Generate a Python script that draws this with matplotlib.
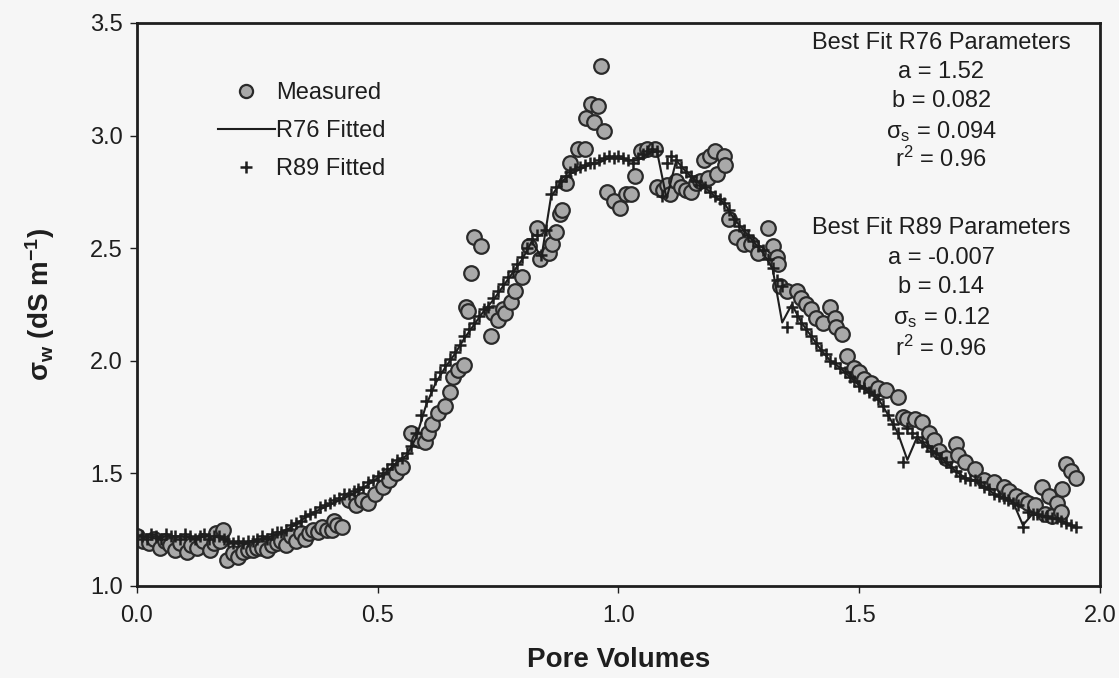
import numpy as np
import matplotlib
matplotlib.use("Agg")
import matplotlib.pyplot as plt

plt.rcParams['font.family'] = ['Liberation Sans', 'DejaVu Sans']
plt.rcParams['mathtext.fontset'] = 'custom'
plt.rcParams['mathtext.rm'] = 'Liberation Sans'
plt.rcParams['mathtext.it'] = 'Liberation Sans'
plt.rcParams['mathtext.bf'] = 'Liberation Sans:bold'

# measured points (pore volumes, sigma_w)
meas_x = [0.000, 0.012, 0.025, 0.035, 0.048, 0.058, 0.068, 0.079, 0.090, 0.103,
          0.113, 0.124, 0.138, 0.151, 0.160, 0.165, 0.172, 0.178, 0.186, 0.200,
          0.210, 0.220, 0.230, 0.240, 0.250, 0.260, 0.270, 0.280, 0.290, 0.300,
          0.310, 0.320, 0.330, 0.340, 0.350, 0.357, 0.365, 0.375, 0.385, 0.395,
          0.405, 0.410, 0.415, 0.425, 0.440, 0.455, 0.467, 0.480, 0.495, 0.510,
          0.523, 0.537, 0.550, 0.570, 0.585, 0.598, 0.605, 0.612, 0.626, 0.640,
          0.650, 0.657, 0.667, 0.680, 0.684, 0.688, 0.694, 0.700, 0.715, 0.735,
          0.740, 0.750, 0.760, 0.765, 0.777, 0.785, 0.800, 0.815, 0.830, 0.838,
          0.855, 0.862, 0.870, 0.878, 0.882, 0.890, 0.900, 0.915, 0.930, 0.932,
          0.943, 0.950, 0.957, 0.963, 0.970, 0.977, 0.990, 1.004, 1.015, 1.025,
          1.035, 1.046, 1.060, 1.076, 1.080, 1.092, 1.100, 1.107, 1.120, 1.130,
          1.140, 1.150, 1.160, 1.170, 1.178, 1.185, 1.190, 1.200, 1.205, 1.220,
          1.222, 1.230, 1.245, 1.260, 1.275, 1.290, 1.310, 1.320, 1.330, 1.332,
          1.335, 1.350, 1.370, 1.380, 1.390, 1.400, 1.410, 1.425, 1.440, 1.450,
          1.452, 1.465, 1.475, 1.490, 1.500, 1.510, 1.525, 1.540, 1.555, 1.580,
          1.590, 1.600, 1.615, 1.630, 1.645, 1.655, 1.665, 1.680, 1.700, 1.705,
          1.720, 1.740, 1.760, 1.780, 1.800, 1.812, 1.825, 1.840, 1.850, 1.865,
          1.880, 1.886, 1.895, 1.900, 1.910, 1.920, 1.922, 1.930, 1.940, 1.950]
meas_y = [1.22, 1.20, 1.19, 1.21, 1.17, 1.20, 1.18, 1.16, 1.19, 1.15,
          1.18, 1.17, 1.20, 1.16, 1.19, 1.235, 1.20, 1.25, 1.115, 1.145,
          1.13, 1.15, 1.16, 1.16, 1.17, 1.17, 1.16, 1.18, 1.19, 1.20,
          1.18, 1.22, 1.20, 1.235, 1.21, 1.235, 1.25, 1.24, 1.26, 1.25,
          1.25, 1.29, 1.27, 1.26, 1.38, 1.36, 1.38, 1.37, 1.41, 1.44,
          1.47, 1.50, 1.53, 1.68, 1.65, 1.64, 1.68, 1.72, 1.77, 1.80,
          1.86, 1.93, 1.96, 1.98, 2.24, 2.22, 2.39, 2.55, 2.51, 2.11,
          2.21, 2.18, 2.23, 2.21, 2.26, 2.31, 2.37, 2.51, 2.59, 2.45,
          2.48, 2.52, 2.57, 2.65, 2.67, 2.79, 2.88, 2.94, 2.94, 3.08,
          3.14, 3.06, 3.13, 3.31, 3.02, 2.75, 2.71, 2.68, 2.74, 2.74,
          2.82, 2.93, 2.94, 2.94, 2.77, 2.76, 2.78, 2.74, 2.80, 2.77,
          2.76, 2.75, 2.79, 2.80, 2.89, 2.81, 2.91, 2.93, 2.83, 2.91,
          2.87, 2.63, 2.55, 2.52, 2.52, 2.48, 2.59, 2.51, 2.46, 2.43,
          2.33, 2.31, 2.31, 2.28, 2.25, 2.23, 2.19, 2.17, 2.24, 2.19,
          2.15, 2.12, 2.02, 1.97, 1.95, 1.92, 1.90, 1.88, 1.87, 1.84,
          1.75, 1.74, 1.74, 1.73, 1.68, 1.65, 1.60, 1.57, 1.63, 1.58,
          1.55, 1.52, 1.47, 1.46, 1.44, 1.42, 1.40, 1.38, 1.37, 1.36,
          1.44, 1.32, 1.40, 1.31, 1.37, 1.33, 1.43, 1.54, 1.51, 1.48]

# R76 fitted curve
r76_x = [0.00, 0.02, 0.04, 0.06, 0.08, 0.10, 0.12, 0.14, 0.16, 0.18,
         0.20, 0.22, 0.24, 0.26, 0.28, 0.30, 0.32, 0.34, 0.36, 0.38,
         0.40, 0.42, 0.44, 0.46, 0.48, 0.50, 0.52, 0.54, 0.56, 0.58,
         0.60, 0.62, 0.64, 0.66, 0.68, 0.70, 0.72, 0.74, 0.76, 0.78,
         0.80, 0.82, 0.84, 0.86, 0.88, 0.90, 0.92, 0.94, 0.96, 0.98,
         1.00, 1.02, 1.04, 1.06, 1.08, 1.10, 1.12, 1.14, 1.16, 1.18,
         1.20, 1.22, 1.24, 1.26, 1.28, 1.30, 1.32, 1.34, 1.36, 1.38,
         1.40, 1.42, 1.44, 1.46, 1.48, 1.50, 1.52, 1.54, 1.56, 1.58,
         1.60, 1.62, 1.64, 1.66, 1.68, 1.70, 1.72, 1.74, 1.76, 1.78,
         1.80, 1.82, 1.84, 1.86, 1.88, 1.90, 1.92, 1.94, 1.95]
r76_y = [1.22, 1.22, 1.21, 1.22, 1.22, 1.22, 1.21, 1.22, 1.22, 1.21,
         1.19, 1.19, 1.20, 1.21, 1.22, 1.24, 1.26, 1.29, 1.32, 1.34,
         1.36, 1.38, 1.40, 1.42, 1.45, 1.48, 1.51, 1.55, 1.58, 1.66,
         1.80, 1.90, 1.97, 2.03, 2.10, 2.16, 2.22, 2.27, 2.33, 2.39,
         2.45, 2.53, 2.46, 2.73, 2.79, 2.83, 2.85, 2.87, 2.88, 2.90,
         2.90, 2.89, 2.89, 2.92, 2.93, 2.72, 2.89, 2.84, 2.80, 2.77,
         2.73, 2.70, 2.63, 2.58, 2.53, 2.48, 2.41, 2.17, 2.25, 2.17,
         2.11, 2.05, 2.00, 1.97, 1.93, 1.89, 1.86, 1.83, 1.76, 1.68,
         1.56, 1.66, 1.62, 1.59, 1.55, 1.51, 1.48, 1.47, 1.44, 1.41,
         1.39, 1.37, 1.27, 1.32, 1.31, 1.30, 1.29, 1.27, 1.26]

# R89 fitted points
r89_x = [0.00, 0.01, 0.02, 0.03, 0.04, 0.05, 0.06, 0.07, 0.08, 0.09,
         0.10, 0.11, 0.12, 0.13, 0.14, 0.15, 0.16, 0.17, 0.18, 0.19,
         0.20, 0.21, 0.22, 0.23, 0.24, 0.25, 0.26, 0.27, 0.28, 0.29,
         0.30, 0.31, 0.32, 0.33, 0.34, 0.35, 0.36, 0.37, 0.38, 0.39,
         0.40, 0.41, 0.42, 0.43, 0.44, 0.45, 0.46, 0.47, 0.48, 0.49,
         0.50, 0.51, 0.52, 0.53, 0.54, 0.55, 0.56, 0.57, 0.58, 0.59,
         0.60, 0.61, 0.62, 0.63, 0.64, 0.65, 0.66, 0.67, 0.68, 0.69,
         0.70, 0.71, 0.72, 0.73, 0.74, 0.75, 0.76, 0.77, 0.78, 0.79,
         0.80, 0.81, 0.82, 0.83, 0.84, 0.85, 0.86, 0.87, 0.88, 0.89,
         0.90, 0.91, 0.92, 0.93, 0.94, 0.95, 0.96, 0.97, 0.98, 0.99,
         1.00, 1.01, 1.02, 1.03, 1.04, 1.05, 1.06, 1.07, 1.08, 1.09,
         1.10, 1.11, 1.12, 1.13, 1.14, 1.15, 1.16, 1.17, 1.18, 1.19,
         1.20, 1.21, 1.22, 1.23, 1.24, 1.25, 1.26, 1.27, 1.28, 1.29,
         1.30, 1.31, 1.32, 1.33, 1.34, 1.35, 1.36, 1.37, 1.38, 1.39,
         1.40, 1.41, 1.42, 1.43, 1.44, 1.45, 1.46, 1.47, 1.48, 1.49,
         1.50, 1.51, 1.52, 1.53, 1.54, 1.55, 1.56, 1.57, 1.58, 1.59,
         1.60, 1.61, 1.62, 1.63, 1.64, 1.65, 1.66, 1.67, 1.68, 1.69,
         1.70, 1.71, 1.72, 1.73, 1.74, 1.75, 1.76, 1.77, 1.78, 1.79,
         1.80, 1.81, 1.82, 1.83, 1.84, 1.85, 1.86, 1.87, 1.88, 1.89,
         1.90, 1.91, 1.92, 1.93, 1.94, 1.95]
r89_y = [1.21, 1.22, 1.21, 1.23, 1.22, 1.21, 1.23, 1.22, 1.22, 1.21,
         1.23, 1.22, 1.21, 1.22, 1.23, 1.21, 1.22, 1.22, 1.21, 1.20,
         1.19, 1.20, 1.19, 1.20, 1.20, 1.21, 1.22, 1.21, 1.23, 1.24,
         1.24, 1.25, 1.27, 1.28, 1.29, 1.31, 1.32, 1.33, 1.35, 1.36,
         1.37, 1.38, 1.39, 1.41, 1.41, 1.42, 1.43, 1.44, 1.46, 1.47,
         1.49, 1.50, 1.52, 1.54, 1.56, 1.57, 1.59, 1.62, 1.68, 1.76,
         1.82, 1.87, 1.92, 1.95, 1.98, 2.01, 2.04, 2.07, 2.11, 2.14,
         2.17, 2.20, 2.23, 2.24, 2.28, 2.31, 2.34, 2.37, 2.40, 2.43,
         2.46, 2.50, 2.54, 2.56, 2.47, 2.58, 2.74, 2.77, 2.80, 2.82,
         2.84, 2.85, 2.86, 2.87, 2.88, 2.88, 2.89, 2.90, 2.91, 2.90,
         2.91, 2.90, 2.89, 2.88, 2.90, 2.92, 2.93, 2.94, 2.93, 2.73,
         2.88, 2.91, 2.89, 2.86, 2.84, 2.82, 2.80, 2.78, 2.77, 2.75,
         2.73, 2.72, 2.70, 2.67, 2.63, 2.60, 2.58, 2.56, 2.53, 2.51,
         2.49, 2.45, 2.41, 2.36, 2.33, 2.15, 2.24, 2.20, 2.17, 2.14,
         2.11, 2.08, 2.05, 2.03, 2.00, 1.99, 1.97, 1.95, 1.93, 1.91,
         1.89, 1.88, 1.86, 1.85, 1.83, 1.80, 1.76, 1.72, 1.68, 1.55,
         1.70, 1.68, 1.66, 1.64, 1.62, 1.60, 1.59, 1.57, 1.55, 1.53,
         1.51, 1.49, 1.48, 1.47, 1.47, 1.46, 1.44, 1.43, 1.41, 1.40,
         1.39, 1.38, 1.37, 1.36, 1.26, 1.33, 1.32, 1.32, 1.31, 1.31,
         1.30, 1.30, 1.29, 1.28, 1.27, 1.26]

r76_params = ["Best Fit R76 Parameters", "a = 1.52", "b = 0.082",
              r"$\sigma_s$ = 0.094", r"r$^2$ = 0.96"]
r89_params = ["Best Fit R89 Parameters", "a = -0.007", "b = 0.14",
              r"$\sigma_s$ = 0.12", r"r$^2$ = 0.96"]

bg = '#f6f6f6'
ink = '#1e1e1e'

fig = plt.figure(figsize=(11.19, 6.78), dpi=100, facecolor=bg)
ax = fig.add_axes([0.1224, 0.1357, 0.8606, 0.8304], facecolor=bg)

ax.plot(meas_x, meas_y, linestyle='none', marker='o', ms=10.5,
        mfc='#a9a9a9', mec='#2a2a2a', mew=1.6, label='Measured', zorder=2)
ax.plot(r76_x, r76_y, color=ink, lw=1.5, label='R76 Fitted', zorder=3)
ax.plot(r89_x, r89_y, linestyle='none', marker='+', ms=9, mew=1.8,
        color=ink, label='R89 Fitted', zorder=4)

ax.set_xlim(0, 2.0)
ax.set_ylim(1.0, 3.5)
ax.set_xticks([0.0, 0.5, 1.0, 1.5, 2.0])
ax.set_yticks([1.0, 1.5, 2.0, 2.5, 3.0, 3.5])
ax.xaxis.set_major_formatter(matplotlib.ticker.FormatStrFormatter('%.1f'))
ax.yaxis.set_major_formatter(matplotlib.ticker.FormatStrFormatter('%.1f'))
ax.tick_params(direction='out', length=5, width=1, colors=ink, labelsize=17)
ax.tick_params(axis='x', pad=9)
ax.tick_params(axis='y', pad=5)
for s in ax.spines.values():
    s.set_linewidth(2)
    s.set_color(ink)

ax.set_xlabel('Pore Volumes', fontsize=20, fontweight='bold', color=ink, labelpad=14)
ax.set_ylabel(r'$\mathbf{\sigma_w}$ (dS m$^{\mathbf{-1}}$)', fontsize=20,
              fontweight='bold', color=ink, labelpad=24)

leg = ax.legend(loc='upper left', bbox_to_anchor=(0.084, 0.895), frameon=False,
                fontsize=17, borderpad=0, borderaxespad=0, handlelength=2.4,
                handletextpad=0.05, labelspacing=0.68, markerscale=0.9)
for t in leg.get_texts():
    t.set_color(ink)

ys76 = [0.9645, 0.913, 0.861, 0.808, 0.757]
ys89 = [0.636, 0.583, 0.531, 0.476, 0.423]
for txt, yy in zip(r76_params, ys76):
    ax.text(0.835, yy, txt, transform=ax.transAxes, ha='center', va='center',
            fontsize=17, color=ink)
for txt, yy in zip(r89_params, ys89):
    ax.text(0.835, yy, txt, transform=ax.transAxes, ha='center', va='center',
            fontsize=17, color=ink)

fig.savefig('out.png', dpi=100, facecolor=bg)
